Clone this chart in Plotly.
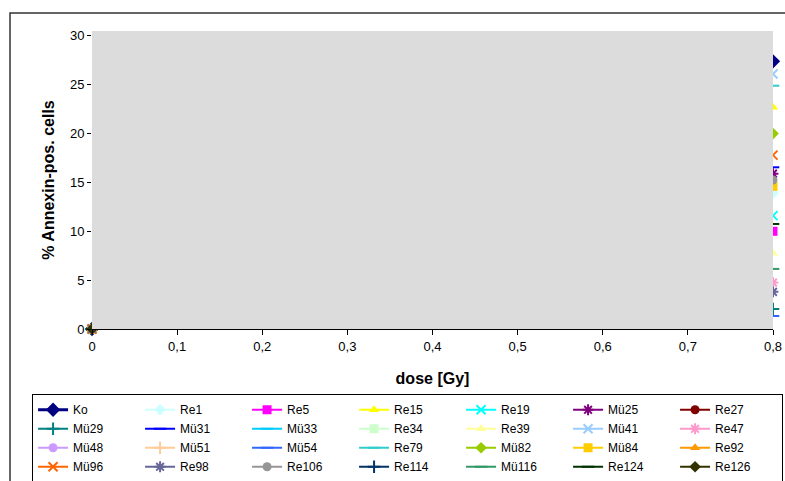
import plotly.graph_objects as go

dose = [0, 0.8]

names = ["Ko", "Re1", "Re5", "Re15", "Re19", "Mü25", "Re27",
         "Mü29", "Mü31", "Mü33", "Re34", "Re39", "Mü41", "Re47",
         "Mü48", "Mü51", "Mü54", "Re79", "Mü82", "Mü84", "Re92",
         "Mü96", "Re98", "Re106", "Re114", "Mü116", "Re124", "Re126"]

# % Annexin-positive cells at 0 Gy and 0.8 Gy (None = not visible)
values = {
    "Ko": [0, 27.4], "Re1": [0, 13.9], "Re5": [0, 10.0], "Re15": [0, 22.7],
    "Re19": [0, 11.6], "Mü25": [0, 15.9], "Re27": [0, None],
    "Mü29": [0, 2.05], "Mü31": [0, 16.55], "Mü33": [0, None], "Re34": [0, None],
    "Re39": [0, 7.75], "Mü41": [0, 26.1], "Re47": [0, 4.75],
    "Mü48": [0, None], "Mü51": [0, None], "Mü54": [0, 1.33], "Re79": [0, 24.9],
    "Mü82": [0, 20.0], "Mü84": [0, 14.6], "Re92": [0, None],
    "Mü96": [0, 17.8], "Re98": [0, 3.8], "Re106": [0, 15.25], "Re114": [0, None],
    "Mü116": [0, 6.15], "Re124": [0, 10.75], "Re126": [0, None],
}
# Ko error bar, as far as it is visible (up to the top of the plot area)
ko_err_plus = [0, 3.1]
ko_err_minus = [0, 6.1]

colors = ["#000080", "#CCFFFF", "#FF00FF", "#FFFF00", "#00FFFF", "#800080", "#800000",
          "#008080", "#0000FF", "#00CCFF", "#CCFFCC", "#FFFF99", "#99CCFF", "#FF99CC",
          "#CC99FF", "#FFCC99", "#3366FF", "#33CCCC", "#99CC00", "#FFCC00", "#FF9900",
          "#FF6600", "#666699", "#969696", "#003366", "#339966", "#003300", "#333300"]
symbols = ["diamond", "diamond", "square", "triangle-up", "x-thin-open", "asterisk-open", "circle",
           "cross-thin-open", "line-ew-open", "line-ew-open", "square", "triangle-up", "x-thin-open", "asterisk-open",
           "circle", "cross-thin-open", "line-ew-open", "line-ew-open", "diamond", "square", "triangle-up",
           "x-thin-open", "asterisk-open", "circle", "cross-thin-open", "line-ew-open", "line-ew-open", "diamond"]

FONT = "Arial, Liberation Sans, sans-serif"

fig = go.Figure()
for n, c, s in zip(names, colors, symbols):
    open_sym = s.endswith("-open")
    tr = dict(
        x=dose, y=values[n], name=n, mode="lines+markers",
        line=dict(color=c, width=3 if n == "Ko" else 2),
        marker=dict(symbol=s, size=11 if n == "Ko" else 9, color=c,
                    line=dict(color=c, width=2 if open_sym else 0)),
        cliponaxis=False,
    )
    if n == "Ko":
        tr["error_y"] = dict(type="data", symmetric=False, array=ko_err_plus,
                             arrayminus=ko_err_minus, color=c, thickness=2, width=5)
    fig.add_trace(go.Scatter(**tr))

# gray plot area drawn above the series
fig.add_shape(type="rect", xref="x", yref="y", x0=0, x1=0.8, y0=0, y1=30.5,
              fillcolor="#DCDCDC", line=dict(width=0), layer="above")
# outer chart border (top and left edges visible)
fig.add_shape(type="rect", xref="paper", yref="paper", x0=-0.1204, x1=1.1, y0=-0.6, y1=1.0604,
              line=dict(color="#333333", width=1.5), fillcolor="rgba(0,0,0,0)", layer="above")

fig.update_layout(
    width=785, height=481,
    margin=dict(l=92, r=12, t=31, b=152, autoexpand=False),
    paper_bgcolor="white", plot_bgcolor="white",
    separators=",.",
    font=dict(family=FONT, size=13, color="black"),
    showlegend=True,
    legend=dict(orientation="h", x=-0.088, y=-0.219, xanchor="left", yanchor="top",
                bordercolor="black", borderwidth=1, bgcolor="white",
                font=dict(size=12, family=FONT), entrywidth=62, entrywidthmode="pixels",
                tracegroupgap=0, itemwidth=30),
    xaxis=dict(range=[0, 0.8], tickvals=[0, 0.1, 0.2, 0.3, 0.4, 0.5, 0.6, 0.7, 0.8],
               showgrid=False, zeroline=False, showline=True, linecolor="black", linewidth=1,
               ticks="outside", ticklen=5, tickcolor="black", tickfont=dict(size=13),
               automargin=False,
               title=dict(text="<b>dose [Gy]</b>", font=dict(size=16), standoff=20)),
    yaxis=dict(range=[0, 30.5], tickvals=[0, 5, 10, 15, 20, 25, 30],
               showgrid=False, zeroline=False, showline=False,
               ticks="outside", ticklen=4, tickcolor="black", tickfont=dict(size=13),
               automargin=False,
               title=dict(text="<b>% Annexin-pos. cells</b>", font=dict(size=16), standoff=11)),
)

fig.write_html("out.html", config={"displayModeBar": False},
               post_script="document.body.style.margin='0px';document.body.style.overflow='hidden';")
